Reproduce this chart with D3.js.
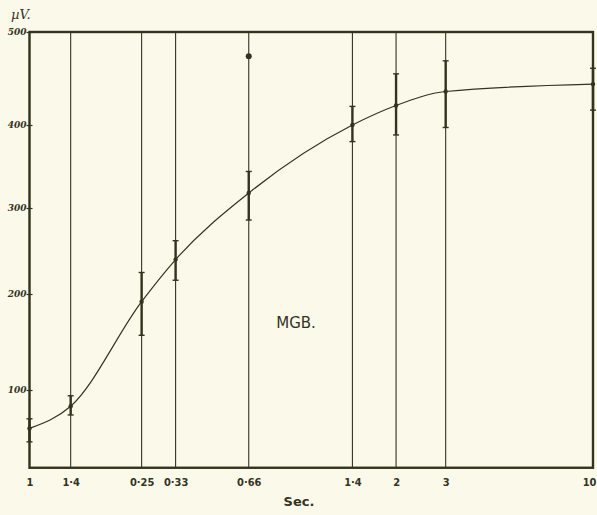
<!DOCTYPE html>
<html>
<head>
<meta charset="utf-8">
<script src="https://cdn.jsdelivr.net/npm/d3@7"></script>
<style>
  body { margin: 0; background: #fbfaea; }
  svg { display: block; }
</style>
</head>
<body>
<svg id="chart" width="597" height="515"></svg>
<script>
// stimulus interval (sec, log axis) and evoked amplitude (µV)
const xVals   = [0.1, 0.14, 0.25, 0.33, 0.6, 1.4, 2, 3, 10];
const xLabels = ["1", "1·4", "0·25", "0·33", "0·66", "1·4", "2", "3", "10"];
const means   = [60, 83, 192, 240, 318, 400, 421, 436, 444];
const errLo   = [46, 74, 157, 216, 286, 380, 388, 397, 416];
const errHi   = [70, 94, 225, 262, 344, 420, 455, 469, 461];
const stray   = [{x: 0.6, y: 474}];
const yTicks  = [100, 200, 300, 400, 500];
const yTickLabels = ["100", "200", "300", "400", "500"];

const ink = "#34331f";
let svg = d3.select("#chart");

// hand drawn axis: the gridding is a bit uneven, so piecewise linear
let x = d3.scaleLog().domain([0.1, 10]).range([29.5, 593]);
let y = d3.scaleLinear().domain([100, 200, 300, 400, 500]).range([390, 294, 208, 125, 32]);
let yBottom = y(19), yTop = y(500);

let g = svg.append("g");

// vertical rulings at each interval
g.selectAll("line.rule")
  .data(xVals)
  .join("line")
  .attr("class", "rule")
  .attr("x1", d => x(d)).attr("x2", d => x(d))
  .attr("y1", yTop).attr("y2", yBottom)
  .attr("stroke", ink)
  .attr("stroke-width", 1.1);

// frame
g.append("rect")
  .attr("x", x(0.1)).attr("y", yTop)
  .attr("width", x(10) - x(0.1)).attr("height", yBottom - yTop)
  .attr("fill", "none")
  .attr("stroke", ink)
  .attr("stroke-width", 2.4);

// y axis ticks + labels
let yAxis = d3.axisLeft(y).tickValues(yTicks).tickSize(4)
  .tickFormat((d, i) => yTickLabels[i]);
let ya = g.append("g").attr("transform", `translate(${x(0.1) + 3},0)`).call(yAxis);
ya.select(".domain").remove();
ya.selectAll("line").attr("stroke", ink).attr("stroke-width", 1.2).attr("x2", -6);
ya.selectAll("text")
  .attr("x", -6)
  .attr("fill", ink)
  .style("font", "italic bold 9px 'DejaVu Serif'");

// x axis labels
let xAxis = d3.axisBottom(x).tickValues(xVals).tickSize(0)
  .tickFormat((d, i) => xLabels[i]);
let xa = g.append("g").attr("transform", `translate(0,${yBottom})`).call(xAxis);
xa.select(".domain").remove();
xa.selectAll("text")
  .attr("y", 10)
  .attr("fill", ink)
  .style("font", "bold 11px 'DejaVu Sans Condensed'");
// last label sits at the page edge, keep it inside
xa.selectAll("text").filter(d => d === 10)
  .attr("text-anchor", "end")
  .attr("dx", 3);

// error bars
let pts = xVals.map((d, i) => ({x: d, m: means[i], lo: errLo[i], hi: errHi[i]}));
g.selectAll("line.err")
  .data(pts)
  .join("line")
  .attr("class", "err")
  .attr("x1", d => x(d.x)).attr("x2", d => x(d.x))
  .attr("y1", d => y(d.lo)).attr("y2", d => y(d.hi))
  .attr("stroke", ink)
  .attr("stroke-width", 2.4);

let caps = pts.flatMap(d => [{x: d.x, v: d.lo}, {x: d.x, v: d.hi}]);
g.selectAll("line.cap")
  .data(caps)
  .join("line")
  .attr("class", "cap")
  .attr("x1", d => x(d.x) - 3).attr("x2", d => x(d.x) + 3)
  .attr("y1", d => y(d.v)).attr("y2", d => y(d.v))
  .attr("stroke", ink)
  .attr("stroke-width", 1.4);

// curve
let line = d3.line()
  .x(d => x(d.x))
  .y(d => y(d.m))
  .curve(d3.curveMonotoneX);
g.append("path")
  .datum(pts)
  .attr("d", line)
  .attr("fill", "none")
  .attr("stroke", ink)
  .attr("stroke-width", 1.2);

g.selectAll("circle.pt")
  .data(pts)
  .join("circle")
  .attr("class", "pt")
  .attr("cx", d => x(d.x)).attr("cy", d => y(d.m))
  .attr("r", 2.2)
  .attr("fill", ink);

g.selectAll("circle.stray")
  .data(stray)
  .join("circle")
  .attr("class", "stray")
  .attr("cx", d => x(d.x)).attr("cy", d => y(d.y))
  .attr("r", 3)
  .attr("fill", ink);

// labels
g.append("text")
  .attr("x", 11).attr("y", 19)
  .attr("fill", ink)
  .style("font", "italic 13px 'DejaVu Serif'")
  .text("µV.");

g.append("text")
  .attr("x", 296).attr("y", 328)
  .attr("text-anchor", "middle")
  .attr("fill", ink)
  .style("font", "15px 'DejaVu Sans'")
  .text("MGB.");

g.append("text")
  .attr("x", 299).attr("y", 506)
  .attr("text-anchor", "middle")
  .attr("fill", ink)
  .style("font", "bold 13px 'DejaVu Sans'")
  .text("Sec.");
</script>
</body>
</html>
